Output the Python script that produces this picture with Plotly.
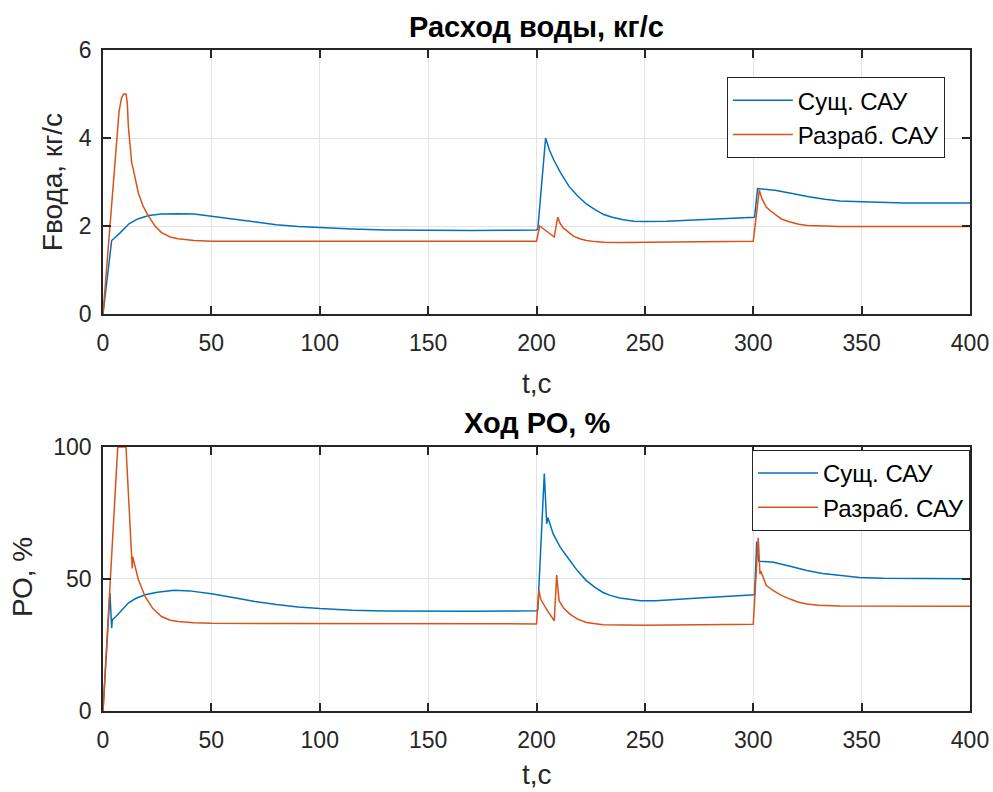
import plotly.graph_objects as go

# ---- Расход воды, кг/с : существующая САУ ----
t_flow_sush = [0, 4, 8, 12, 16, 21, 27, 35, 42, 50, 60, 70, 80, 90, 100, 115, 130, 150, 170, 190,
               200, 200.6, 204.2, 206, 208, 211, 215, 219, 223, 227, 231, 235, 240, 245, 250, 260,
               270, 280, 290, 300, 300.6, 302, 305, 310, 318, 325, 333, 340, 350, 360, 370, 380,
               390, 400]
flow_sush = [0, 1.67, 1.85, 2.05, 2.16, 2.24, 2.27, 2.28, 2.27, 2.22, 2.16, 2.09, 2.03, 1.99, 1.96,
             1.93, 1.91, 1.90, 1.90, 1.905, 1.91, 1.93, 4.0, 3.72, 3.5, 3.22, 2.9, 2.68, 2.5, 2.37,
             2.26, 2.2, 2.14, 2.11, 2.10, 2.11, 2.13, 2.16, 2.18, 2.19, 2.20, 2.85, 2.84, 2.81, 2.74,
             2.67, 2.61, 2.57, 2.55, 2.53, 2.525, 2.52, 2.52, 2.52]

# ---- Расход воды, кг/с : разработанная САУ ----
t_flow_razr = [0, 2, 4, 6, 7.4, 8.5, 9.5, 10.6, 11.2, 11.7, 12.5, 13.2, 14, 16.3, 18.5, 20.9, 24,
               27, 31, 34.6, 42, 50, 100, 150, 200, 201.5, 208.2, 209.8, 211, 212.5, 215, 217, 220,
               223, 227, 231, 240, 250, 275, 300, 302.8, 304, 306, 308, 310, 313, 317, 321, 325,
               330, 340, 360, 400]
flow_razr = [0, 1.25, 2.5, 3.7, 4.6, 4.9, 5.0, 5.0, 4.8, 4.26, 3.7, 3.45, 3.28, 2.75, 2.45, 2.23,
             2.0, 1.85, 1.75, 1.71, 1.67, 1.655, 1.655, 1.655, 1.655, 2.0, 1.75, 2.2, 2.05, 1.95,
             1.84, 1.77, 1.71, 1.67, 1.645, 1.63, 1.625, 1.625, 1.64, 1.655, 2.82, 2.62, 2.43,
             2.34, 2.26, 2.16, 2.09, 2.04, 2.01, 2.0, 1.99, 1.99, 1.99]

# ---- Ход РО, % : существующая САУ ----
t_po_sush = [0, 3.2, 4.0, 4.3, 6, 8, 11.7, 15, 19.4, 25, 33, 40, 50, 60, 70, 80, 90, 100, 115, 130,
             150, 170, 190, 200, 200.6, 203.6, 204.7, 205.3, 207.7, 211, 215.4, 219, 223, 227,
             230.7, 234, 238.4, 243, 248, 255, 265, 275, 285, 295, 300, 300.6, 301.6, 302.6, 305,
             309.3, 317, 324.7, 332, 340, 349, 360, 370, 380, 390, 400]
po_sush = [0, 44.7, 31.4, 34.6, 35.8, 37.5, 40.9, 42.6, 44.0, 45.0, 45.7, 45.5, 44.4, 43.0, 41.5,
           40.3, 39.4, 38.8, 38.2, 37.9, 37.8, 37.8, 37.9, 38.0, 38.3, 89.9, 70.9, 73.2, 67.1, 62,
           57, 53, 49.4, 46.8, 44.9, 43.8, 42.8, 42.2, 41.8, 41.8, 42.2, 42.8, 43.3, 43.6, 43.7,
           44, 64.2, 56.7, 56.6, 56.3, 54.8, 53.2, 52.1, 51.3, 50.6, 50.3, 50.2, 50.1, 50.1, 50.1]

# ---- Ход РО, % : разработанная САУ ----
t_po_razr = [0, 2, 4, 6, 6.8, 10.6, 13.2, 13.5, 13.7, 16.3, 19.4, 23, 27, 31, 34.7, 42, 50, 100,
             150, 200, 201.1, 201.9, 205, 208.2, 209.3, 210.4, 212.5, 215.4, 219, 223, 230.7, 240,
             250, 275, 300, 302.3, 303.1, 303.5, 306, 309.3, 313, 317, 320.5, 324.7, 330, 340,
             360, 400]
po_razr = [0, 29, 58, 87, 100, 100, 55.4, 54, 58.5, 49.8, 43.4, 38.8, 35.8, 34.4, 33.9, 33.4, 33.2,
           33.1, 33.1, 33.0, 45.8, 42.4, 38, 34.2, 51.5, 41.8, 39, 36.7, 34.8, 33.5, 32.7, 32.5,
           32.5, 32.7, 32.9, 65.6, 51.9, 53, 47.5, 45.6, 43.8, 42.4, 41.3, 40.5, 40.1, 39.8, 39.7,
           39.7]

series_names = ["Сущ. САУ", "Разраб. САУ"]
x_ticks = [0, 50, 100, 150, 200, 250, 300, 350, 400]
flow_ticks = [0, 2, 4, 6]
po_ticks = [0, 50, 100]

BLUE = "#0072BD"
ORANGE = "#D95319"
AX = "#262626"
FONT = "Liberation Sans, Arial, sans-serif"

fig = go.Figure()
fig.add_trace(go.Scatter(x=t_flow_sush, y=flow_sush, mode="lines", name=series_names[0],
                         line=dict(color=BLUE, width=1.5), xaxis="x", yaxis="y", legend="legend"))
fig.add_trace(go.Scatter(x=t_flow_razr, y=flow_razr, mode="lines", name=series_names[1],
                         line=dict(color=ORANGE, width=1.5), xaxis="x", yaxis="y", legend="legend"))
fig.add_trace(go.Scatter(x=t_po_sush, y=po_sush, mode="lines", name=series_names[0],
                         line=dict(color=BLUE, width=1.5), xaxis="x2", yaxis="y2", legend="legend2"))
fig.add_trace(go.Scatter(x=t_po_razr, y=po_razr, mode="lines", name=series_names[1],
                         line=dict(color=ORANGE, width=1.5), xaxis="x2", yaxis="y2", legend="legend2"))

axis_common = dict(showline=True, linecolor=AX, linewidth=1.5, mirror="allticks",
                   ticks="inside", ticklen=8, tickwidth=1.5, tickcolor=AX,
                   showgrid=True, gridcolor="#e3e3e3", gridwidth=1, zeroline=False,
                   tickfont=dict(family=FONT, size=23, color=AX))
x_extra = dict(ticklabelstandoff=8)
y_extra = dict(ticklabelstandoff=5)

legend_common = dict(font=dict(family=FONT, size=24, color="#000000"), bgcolor="white",
                     bordercolor=AX, borderwidth=1, itemwidth=60, xanchor="right", yanchor="top",
                     tracegroupgap=0)

fig.update_layout(
    width=993, height=792,
    margin=dict(l=103, r=23, t=50, b=81, autoexpand=False),
    paper_bgcolor="white", plot_bgcolor="white",
    font=dict(family=FONT, color=AX),
    xaxis=dict(domain=[0, 1], range=[0, 400], tickvals=x_ticks, anchor="y", **axis_common, **x_extra),
    yaxis=dict(domain=[0.6006, 1], range=[0, 6], tickvals=flow_ticks, anchor="x", **axis_common, **y_extra),
    xaxis2=dict(domain=[0, 1], range=[0, 400], tickvals=x_ticks, anchor="y2", **axis_common, **x_extra),
    yaxis2=dict(domain=[0, 0.3994], range=[0, 100], tickvals=po_ticks, anchor="x2", **axis_common, **y_extra),
    legend=dict(x=0.971, y=0.959, **legend_common),
    legend2=dict(x=1.0, y=0.395, **legend_common),
    showlegend=True,
)

annotations = [
    dict(text="<b>Расход воды, кг/с</b>", x=0.5, y=1.0348, font=dict(size=29, color="#000000")),
    dict(text="<b>Ход РО, %</b>", x=0.5, y=0.4357, font=dict(size=29, color="#000000")),
    dict(text="t,с", x=0.5, y=0.4962, font=dict(size=28, color=AX)),
    dict(text="t,с", x=0.5, y=-0.0968, font=dict(size=28, color=AX)),
    dict(text="Fвода, кг/с", x=-0.0588, y=0.800, textangle=-90, font=dict(size=28, color=AX)),
    dict(text="РО, %", x=-0.0934, y=0.2027, textangle=-90, font=dict(size=28, color=AX)),
]
for a in annotations:
    a.update(xref="paper", yref="paper", showarrow=False, xanchor="center", yanchor="middle")
    a["font"]["family"] = FONT
    fig.add_annotation(**a)

fig.write_html("out.html")
